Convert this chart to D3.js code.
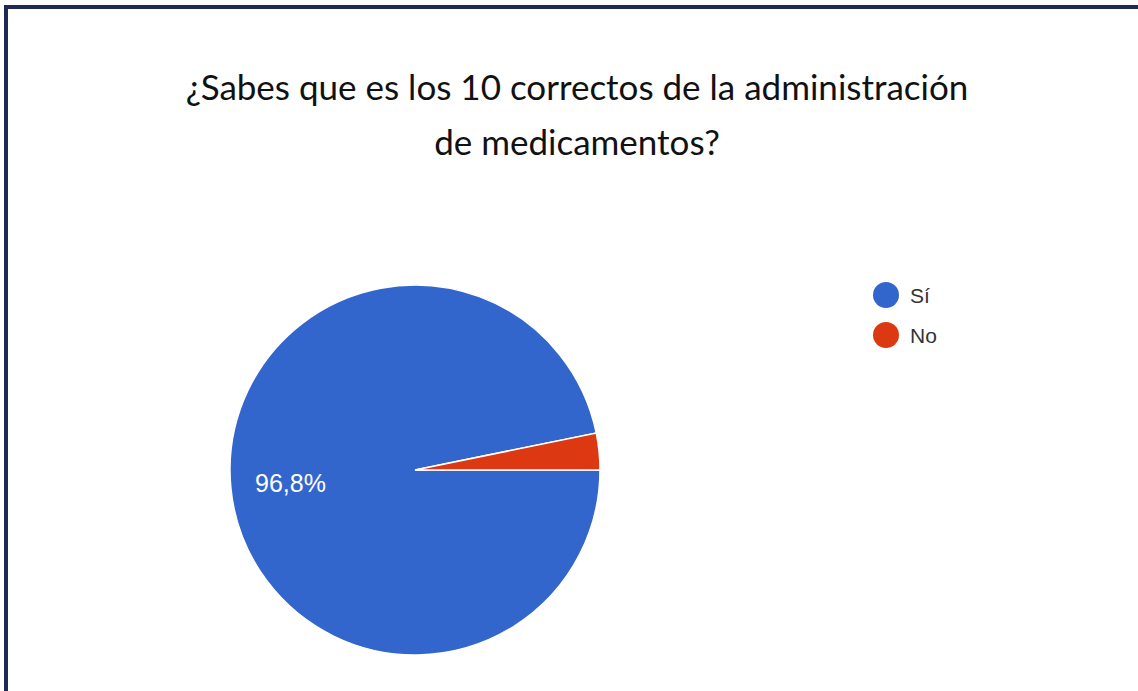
<!DOCTYPE html>
<html>
<head>
<meta charset="utf-8">
<script src="https://cdn.jsdelivr.net/npm/d3@7"></script>
<style>
  body { margin: 0; background: #fff; overflow: hidden; }
  svg { display: block; }
</style>
</head>
<body>
<script>
// chart data
var categories = ["Sí", "No"];
var values = [96.8, 3.2];
var colors = ["#3366cc", "#dc3912"];
var titleLines = ["¿Sabes que es los 10 correctos de la administración", "de medicamentos?"];

var W = 1138, H = 691;
var svg = d3.select("body").append("svg")
  .attr("width", W).attr("height", H);

// frame: only the top and left edges show in the picture
svg.append("path")
  .attr("d", "M6," + H + "V7H" + W)
  .attr("fill", "none").attr("stroke", "#1c2a55").attr("stroke-width", 4);

svg.selectAll("text.title")
  .data(titleLines)
  .enter()
  .append("text")
  .attr("class", "title")
  .attr("x", 577)
  .attr("y", function (d, i) { return 100 + i * 55; })
  .attr("text-anchor", "middle")
  .attr("font-family", "Lato, 'Open Sans', sans-serif")
  .attr("font-size", 35)
  .attr("fill", "#111")
  .text(function (d) { return d; });

var cx = 415, cy = 470, r = 185;
var data = categories.map(function (c, i) { return { name: c, value: values[i], color: colors[i] }; });

// slices run clockwise from 3 o'clock, "No" ends at 3 o'clock
var pie = d3.pie().value(function (d) { return d.value; }).sort(null)
  .startAngle(Math.PI / 2).endAngle(Math.PI / 2 + 2 * Math.PI);
var arc = d3.arc().innerRadius(0).outerRadius(r);

var g = svg.append("g").attr("transform", "translate(" + cx + "," + cy + ")");
g.selectAll("path")
  .data(pie(data))
  .enter()
  .append("path")
  .attr("d", arc)
  .attr("fill", function (d) { return d.data.color; })
  .attr("stroke", "#fff")
  .attr("stroke-width", 1.5);

g.append("text")
  .attr("x", -160).attr("y", 22)
  .attr("font-family", "'Liberation Sans', Arial, sans-serif")
  .attr("font-size", 25)
  .attr("fill", "#fff")
  .text(d3.format(".1f")(values[0]).replace(".", ",") + "%");

var legend = svg.selectAll("g.legend")
  .data(data)
  .enter()
  .append("g")
  .attr("class", "legend")
  .attr("transform", function (d, i) { return "translate(886," + (295 + i * 40) + ")"; });
legend.append("circle").attr("r", 13).attr("fill", function (d) { return d.color; });
legend.append("text")
  .attr("x", 24).attr("y", 8)
  .attr("font-family", "'Liberation Sans', Arial, sans-serif")
  .attr("font-size", 21)
  .attr("fill", "#333")
  .text(function (d) { return d.name; });
</script>
</body>
</html>
